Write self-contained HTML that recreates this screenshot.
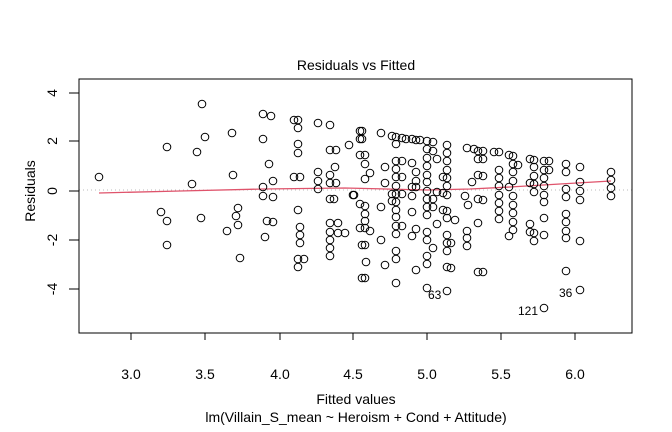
<!DOCTYPE html>
<html><head><meta charset="utf-8"><style>
html,body{margin:0;padding:0;background:#fff;}
svg{display:block;font-family:"Liberation Sans",Arial,sans-serif;}
</style></head><body>
<svg width="672" height="432" viewBox="0 0 672 432" xmlns="http://www.w3.org/2000/svg">
<rect width="672" height="432" fill="#fff"/>
<line x1="79" y1="190" x2="632" y2="190" stroke="#bbb" stroke-width="1" stroke-dasharray="1,3"/>
<polyline points="99,193 180,191 263,189 345,188 427,190 470,189 510,187 560,184 611,181" fill="none" stroke="#df536b" stroke-width="1.3"/>
<rect x="79" y="79" width="553" height="254" fill="none" stroke="#000" stroke-width="1"/>
<g stroke="#000" stroke-width="1">
<line x1="131" y1="333" x2="575" y2="333"/>
<line x1="131" y1="333" x2="131" y2="340"/><line x1="205" y1="333" x2="205" y2="340"/><line x1="280" y1="333" x2="280" y2="340"/><line x1="353" y1="333" x2="353" y2="340"/><line x1="427" y1="333" x2="427" y2="340"/><line x1="501" y1="333" x2="501" y2="340"/><line x1="575" y1="333" x2="575" y2="340"/>
<line x1="79" y1="93" x2="79" y2="289"/>
<line x1="69" y1="93" x2="79" y2="93"/><line x1="69" y1="141" x2="79" y2="141"/><line x1="69" y1="191" x2="79" y2="191"/><line x1="69" y1="240" x2="79" y2="240"/><line x1="69" y1="289" x2="79" y2="289"/>
</g>
<g font-size="14" text-anchor="middle" fill="#000">
<text x="131" y="379">3.0</text><text x="205" y="379">3.5</text><text x="280" y="379">4.0</text><text x="353" y="379">4.5</text><text x="427" y="379">5.0</text><text x="501" y="379">5.5</text><text x="575" y="379">6.0</text>
<text transform="translate(57,93) rotate(-90)">4</text>
<text transform="translate(57,141) rotate(-90)">2</text>
<text transform="translate(57,191) rotate(-90)">0</text>
<text transform="translate(57,240) rotate(-90)">-2</text>
<text transform="translate(57,289) rotate(-90)">-4</text>
<text transform="translate(35,191) rotate(-90)">Residuals</text>
<text x="356" y="404">Fitted values</text>
<text x="356" y="422">lm(Villain_S_mean ~ Heroism + Cond + Attitude)</text>
<text x="356" y="70">Residuals vs Fitted</text>
</g>
<g font-size="12" fill="#000">
<text x="428" y="299">63</text>
<text x="559" y="297">36</text>
<text x="518" y="315">121</text>
</g>
<g fill="none" stroke="#000" stroke-width="1">
<circle cx="99" cy="177" r="3.8"/><circle cx="167" cy="147" r="3.8"/><circle cx="161" cy="212" r="3.8"/><circle cx="167" cy="221" r="3.8"/><circle cx="167" cy="245" r="3.8"/>
<circle cx="202" cy="104" r="3.8"/><circle cx="205" cy="137" r="3.8"/><circle cx="197" cy="152" r="3.8"/><circle cx="192" cy="184" r="3.8"/><circle cx="201" cy="218" r="3.8"/>
<circle cx="232" cy="133" r="3.8"/><circle cx="233" cy="175" r="3.8"/><circle cx="238" cy="208" r="3.8"/><circle cx="236" cy="216" r="3.8"/><circle cx="238" cy="225" r="3.8"/><circle cx="227" cy="231" r="3.8"/><circle cx="240" cy="258" r="3.8"/>
<circle cx="263" cy="114" r="3.8"/><circle cx="271" cy="116" r="3.8"/><circle cx="263" cy="139" r="3.8"/><circle cx="269" cy="164" r="3.8"/><circle cx="273" cy="181" r="3.8"/><circle cx="263" cy="187" r="3.8"/><circle cx="263" cy="196" r="3.8"/><circle cx="273" cy="197" r="3.8"/><circle cx="267" cy="221" r="3.8"/><circle cx="273" cy="222" r="3.8"/><circle cx="265" cy="237" r="3.8"/>
<circle cx="294" cy="120" r="3.8"/><circle cx="298" cy="120" r="3.8"/><circle cx="298" cy="128" r="3.8"/><circle cx="298" cy="144" r="3.8"/><circle cx="298" cy="153" r="3.8"/><circle cx="294" cy="177" r="3.8"/><circle cx="300" cy="177" r="3.8"/><circle cx="298" cy="210" r="3.8"/><circle cx="300" cy="227" r="3.8"/><circle cx="300" cy="235" r="3.8"/><circle cx="300" cy="243" r="3.8"/><circle cx="298" cy="259" r="3.8"/><circle cx="304" cy="259" r="3.8"/><circle cx="298" cy="267" r="3.8"/>
<circle cx="318" cy="123" r="3.8"/><circle cx="318" cy="172" r="3.8"/><circle cx="318" cy="181" r="3.8"/><circle cx="318" cy="189" r="3.8"/>
<circle cx="330" cy="125" r="3.8"/><circle cx="330" cy="150" r="3.8"/><circle cx="330" cy="175" r="3.8"/><circle cx="330" cy="183" r="3.8"/><circle cx="330" cy="199" r="3.8"/><circle cx="330" cy="223" r="3.8"/><circle cx="330" cy="232" r="3.8"/><circle cx="330" cy="240" r="3.8"/><circle cx="330" cy="248" r="3.8"/><circle cx="330" cy="256" r="3.8"/>
<circle cx="336" cy="150" r="3.8"/><circle cx="335" cy="167" r="3.8"/><circle cx="336" cy="183" r="3.8"/><circle cx="334" cy="199" r="3.8"/><circle cx="338" cy="223" r="3.8"/><circle cx="338" cy="233" r="3.8"/><circle cx="345" cy="233" r="3.8"/>
<circle cx="349" cy="145" r="3.8"/><circle cx="354" cy="195" r="3.8"/>
<circle cx="360" cy="131" r="3.8"/><circle cx="360" cy="139" r="3.8"/><circle cx="360" cy="155" r="3.8"/><circle cx="360" cy="204" r="3.8"/><circle cx="360" cy="228" r="3.8"/><circle cx="362" cy="245" r="3.8"/><circle cx="362" cy="278" r="3.8"/>
<circle cx="362" cy="131" r="3.8"/><circle cx="362" cy="139" r="3.8"/>
<circle cx="365" cy="155" r="3.8"/><circle cx="365" cy="164" r="3.8"/><circle cx="365" cy="179" r="3.8"/><circle cx="365" cy="206" r="3.8"/><circle cx="365" cy="214" r="3.8"/><circle cx="365" cy="221" r="3.8"/><circle cx="365" cy="228" r="3.8"/><circle cx="365" cy="245" r="3.8"/><circle cx="366" cy="262" r="3.8"/><circle cx="365" cy="278" r="3.8"/>
<circle cx="353" cy="195" r="3.8"/><circle cx="370" cy="173" r="3.8"/><circle cx="370" cy="231" r="3.8"/>
<circle cx="381" cy="133" r="3.8"/><circle cx="381" cy="207" r="3.8"/><circle cx="381" cy="240" r="3.8"/><circle cx="385" cy="167" r="3.8"/><circle cx="385" cy="183" r="3.8"/><circle cx="385" cy="265" r="3.8"/>
<circle cx="392" cy="136" r="3.8"/><circle cx="396" cy="137" r="3.8"/><circle cx="402" cy="138" r="3.8"/>
<circle cx="396" cy="144" r="3.8"/><circle cx="396" cy="161" r="3.8"/><circle cx="396" cy="169" r="3.8"/><circle cx="396" cy="177" r="3.8"/><circle cx="396" cy="186" r="3.8"/><circle cx="396" cy="194" r="3.8"/><circle cx="396" cy="202" r="3.8"/><circle cx="396" cy="210" r="3.8"/><circle cx="396" cy="217" r="3.8"/><circle cx="396" cy="226" r="3.8"/><circle cx="396" cy="234" r="3.8"/><circle cx="396" cy="251" r="3.8"/><circle cx="396" cy="259" r="3.8"/><circle cx="396" cy="283" r="3.8"/>
<circle cx="402" cy="161" r="3.8"/><circle cx="402" cy="177" r="3.8"/><circle cx="402" cy="194" r="3.8"/><circle cx="402" cy="226" r="3.8"/><circle cx="392" cy="194" r="3.8"/><circle cx="392" cy="201" r="3.8"/>
<circle cx="406" cy="139" r="3.8"/><circle cx="412" cy="139" r="3.8"/><circle cx="416" cy="140" r="3.8"/><circle cx="420" cy="140" r="3.8"/>
<circle cx="412" cy="163" r="3.8"/><circle cx="412" cy="187" r="3.8"/><circle cx="412" cy="196" r="3.8"/><circle cx="412" cy="212" r="3.8"/><circle cx="412" cy="236" r="3.8"/>
<circle cx="416" cy="172" r="3.8"/><circle cx="416" cy="181" r="3.8"/><circle cx="416" cy="187" r="3.8"/><circle cx="416" cy="229" r="3.8"/><circle cx="416" cy="270" r="3.8"/>
<circle cx="427" cy="141" r="3.8"/><circle cx="427" cy="149" r="3.8"/><circle cx="427" cy="158" r="3.8"/><circle cx="427" cy="166" r="3.8"/><circle cx="427" cy="175" r="3.8"/><circle cx="427" cy="182" r="3.8"/><circle cx="427" cy="191" r="3.8"/><circle cx="427" cy="199" r="3.8"/><circle cx="427" cy="207" r="3.8"/><circle cx="427" cy="215" r="3.8"/><circle cx="427" cy="232" r="3.8"/><circle cx="427" cy="240" r="3.8"/><circle cx="427" cy="256" r="3.8"/><circle cx="427" cy="264" r="3.8"/><circle cx="427" cy="288" r="3.8"/>
<circle cx="433" cy="142" r="3.8"/><circle cx="433" cy="151" r="3.8"/><circle cx="433" cy="199" r="3.8"/><circle cx="433" cy="207" r="3.8"/><circle cx="433" cy="248" r="3.8"/>
<circle cx="437" cy="159" r="3.8"/><circle cx="437" cy="192" r="3.8"/><circle cx="437" cy="224" r="3.8"/>
<circle cx="443" cy="177" r="3.8"/><circle cx="443" cy="193" r="3.8"/><circle cx="443" cy="210" r="3.8"/>
<circle cx="447" cy="145" r="3.8"/><circle cx="447" cy="153" r="3.8"/><circle cx="447" cy="161" r="3.8"/><circle cx="447" cy="170" r="3.8"/><circle cx="447" cy="178" r="3.8"/><circle cx="447" cy="186" r="3.8"/><circle cx="447" cy="195" r="3.8"/><circle cx="447" cy="211" r="3.8"/><circle cx="447" cy="218" r="3.8"/><circle cx="447" cy="235" r="3.8"/><circle cx="447" cy="243" r="3.8"/><circle cx="447" cy="251" r="3.8"/><circle cx="447" cy="267" r="3.8"/><circle cx="447" cy="291" r="3.8"/>
<circle cx="451" cy="243" r="3.8"/><circle cx="451" cy="268" r="3.8"/><circle cx="455" cy="220" r="3.8"/>
<circle cx="467" cy="148" r="3.8"/><circle cx="467" cy="231" r="3.8"/><circle cx="467" cy="238" r="3.8"/><circle cx="467" cy="246" r="3.8"/><circle cx="465" cy="196" r="3.8"/><circle cx="468" cy="205" r="3.8"/><circle cx="472" cy="182" r="3.8"/>
<circle cx="474" cy="149" r="3.8"/><circle cx="478" cy="151" r="3.8"/><circle cx="483" cy="151" r="3.8"/>
<circle cx="478" cy="159" r="3.8"/><circle cx="478" cy="175" r="3.8"/><circle cx="478" cy="199" r="3.8"/><circle cx="478" cy="223" r="3.8"/><circle cx="478" cy="272" r="3.8"/>
<circle cx="483" cy="159" r="3.8"/><circle cx="483" cy="176" r="3.8"/><circle cx="483" cy="200" r="3.8"/><circle cx="483" cy="272" r="3.8"/>
<circle cx="494" cy="152" r="3.8"/><circle cx="499" cy="152" r="3.8"/>
<circle cx="499" cy="170" r="3.8"/><circle cx="499" cy="178" r="3.8"/><circle cx="499" cy="186" r="3.8"/><circle cx="499" cy="195" r="3.8"/><circle cx="499" cy="203" r="3.8"/><circle cx="499" cy="211" r="3.8"/><circle cx="499" cy="219" r="3.8"/>
<circle cx="509" cy="155" r="3.8"/><circle cx="509" cy="187" r="3.8"/><circle cx="509" cy="236" r="3.8"/>
<circle cx="513" cy="156" r="3.8"/><circle cx="513" cy="164" r="3.8"/><circle cx="513" cy="172" r="3.8"/><circle cx="513" cy="181" r="3.8"/><circle cx="513" cy="196" r="3.8"/><circle cx="513" cy="205" r="3.8"/><circle cx="513" cy="213" r="3.8"/><circle cx="513" cy="222" r="3.8"/><circle cx="513" cy="230" r="3.8"/><circle cx="518" cy="165" r="3.8"/>
<circle cx="530" cy="159" r="3.8"/><circle cx="534" cy="160" r="3.8"/>
<circle cx="534" cy="167" r="3.8"/><circle cx="534" cy="176" r="3.8"/><circle cx="534" cy="184" r="3.8"/><circle cx="534" cy="192" r="3.8"/><circle cx="534" cy="233" r="3.8"/><circle cx="534" cy="241" r="3.8"/>
<circle cx="530" cy="183" r="3.8"/><circle cx="530" cy="224" r="3.8"/><circle cx="530" cy="232" r="3.8"/>
<circle cx="544" cy="161" r="3.8"/><circle cx="549" cy="161" r="3.8"/>
<circle cx="544" cy="170" r="3.8"/><circle cx="544" cy="178" r="3.8"/><circle cx="544" cy="186" r="3.8"/><circle cx="544" cy="195" r="3.8"/><circle cx="544" cy="202" r="3.8"/><circle cx="544" cy="218" r="3.8"/><circle cx="544" cy="235" r="3.8"/><circle cx="544" cy="308" r="3.8"/><circle cx="549" cy="170" r="3.8"/>
<circle cx="566" cy="164" r="3.8"/><circle cx="566" cy="172" r="3.8"/><circle cx="566" cy="189" r="3.8"/><circle cx="566" cy="197" r="3.8"/><circle cx="566" cy="214" r="3.8"/><circle cx="566" cy="222" r="3.8"/><circle cx="566" cy="231" r="3.8"/><circle cx="566" cy="238" r="3.8"/><circle cx="566" cy="271" r="3.8"/>
<circle cx="580" cy="167" r="3.8"/><circle cx="580" cy="182" r="3.8"/><circle cx="580" cy="191" r="3.8"/><circle cx="580" cy="200" r="3.8"/><circle cx="580" cy="241" r="3.8"/><circle cx="580" cy="290" r="3.8"/>
<circle cx="611" cy="172" r="3.8"/><circle cx="611" cy="180" r="3.8"/><circle cx="611" cy="188" r="3.8"/><circle cx="611" cy="196" r="3.8"/>
</g>
</svg>
</body></html>
